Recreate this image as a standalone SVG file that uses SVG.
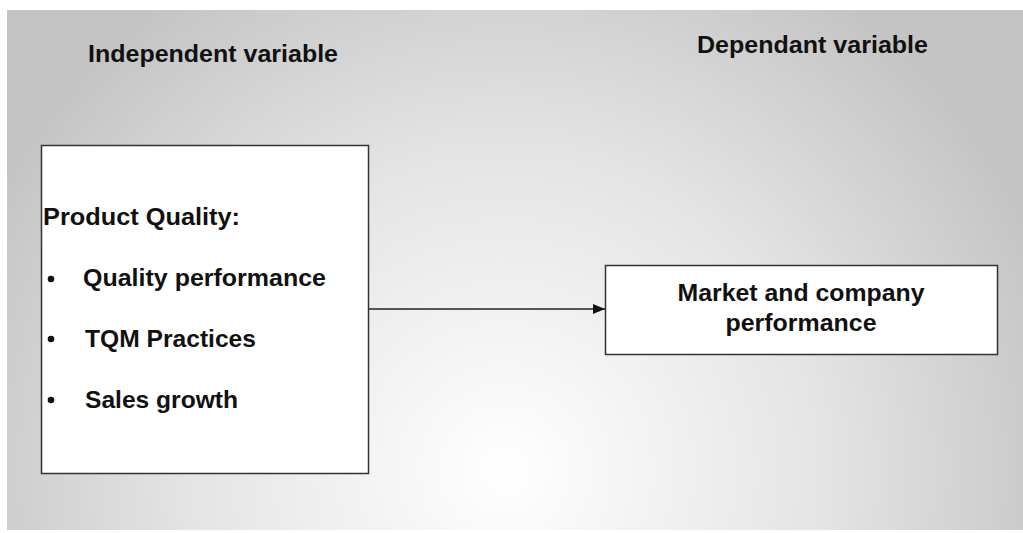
<svg xmlns="http://www.w3.org/2000/svg" width="1023" height="533" viewBox="0 0 1023 533">
  <defs>
    <radialGradient id="bg" gradientUnits="userSpaceOnUse" cx="505" cy="470" r="580">
      <stop offset="0" stop-color="#ffffff"/>
      <stop offset="0.55" stop-color="#e4e4e4"/>
      <stop offset="1" stop-color="#c4c4c4"/>
    </radialGradient>
    <marker id="arrow" viewBox="0 0 12 10" refX="12" refY="5" markerWidth="12" markerHeight="10" markerUnits="userSpaceOnUse" orient="auto">
      <path d="M0,0 L12,5 L0,10 Z" fill="#111"/>
    </marker>
    <style>
      .lbl { font-family: "Liberation Sans", Arial, sans-serif; font-weight: bold; font-size: 24px; fill: #111; }
      .box { fill: #ffffff; stroke: #333; stroke-width: 1.5; }
      .edge { stroke: #222; stroke-width: 1.5; fill: none; }
    </style>
  </defs>

  <rect x="0" y="0" width="1023" height="533" fill="#ffffff"/>
  <rect x="7" y="10" width="1016" height="520" fill="url(#bg)"/>

  <g id="headings">
    <text class="lbl" x="88" y="62" textLength="250" lengthAdjust="spacingAndGlyphs">Independent variable</text>
    <text class="lbl" x="697" y="53" textLength="231" lengthAdjust="spacingAndGlyphs">Dependant variable</text>
  </g>

  <g id="connectors">
    <line class="edge" x1="368" y1="309" x2="605" y2="309" marker-end="url(#arrow)"/>
  </g>

  <g id="product-quality">
    <rect class="box" x="41.5" y="145.5" width="327" height="328"/>
    <text class="lbl" x="43" y="225" textLength="197" lengthAdjust="spacingAndGlyphs">Product Quality:</text>
    <circle cx="51" cy="279" r="3.3" fill="#111"/>
    <text class="lbl" x="83" y="286" textLength="243" lengthAdjust="spacingAndGlyphs">Quality performance</text>
    <circle cx="51" cy="339" r="3.3" fill="#111"/>
    <text class="lbl" x="85" y="347" textLength="171" lengthAdjust="spacingAndGlyphs">TQM Practices</text>
    <circle cx="51" cy="400" r="3.3" fill="#111"/>
    <text class="lbl" x="85" y="408" textLength="153" lengthAdjust="spacingAndGlyphs">Sales growth</text>
  </g>

  <g id="market-performance">
    <rect class="box" x="605.5" y="265.5" width="392" height="89"/>
    <text class="lbl" x="801" y="301" text-anchor="middle" textLength="247" lengthAdjust="spacingAndGlyphs">Market and company</text>
    <text class="lbl" x="801" y="331" text-anchor="middle" textLength="151" lengthAdjust="spacingAndGlyphs">performance</text>
  </g>
</svg>
